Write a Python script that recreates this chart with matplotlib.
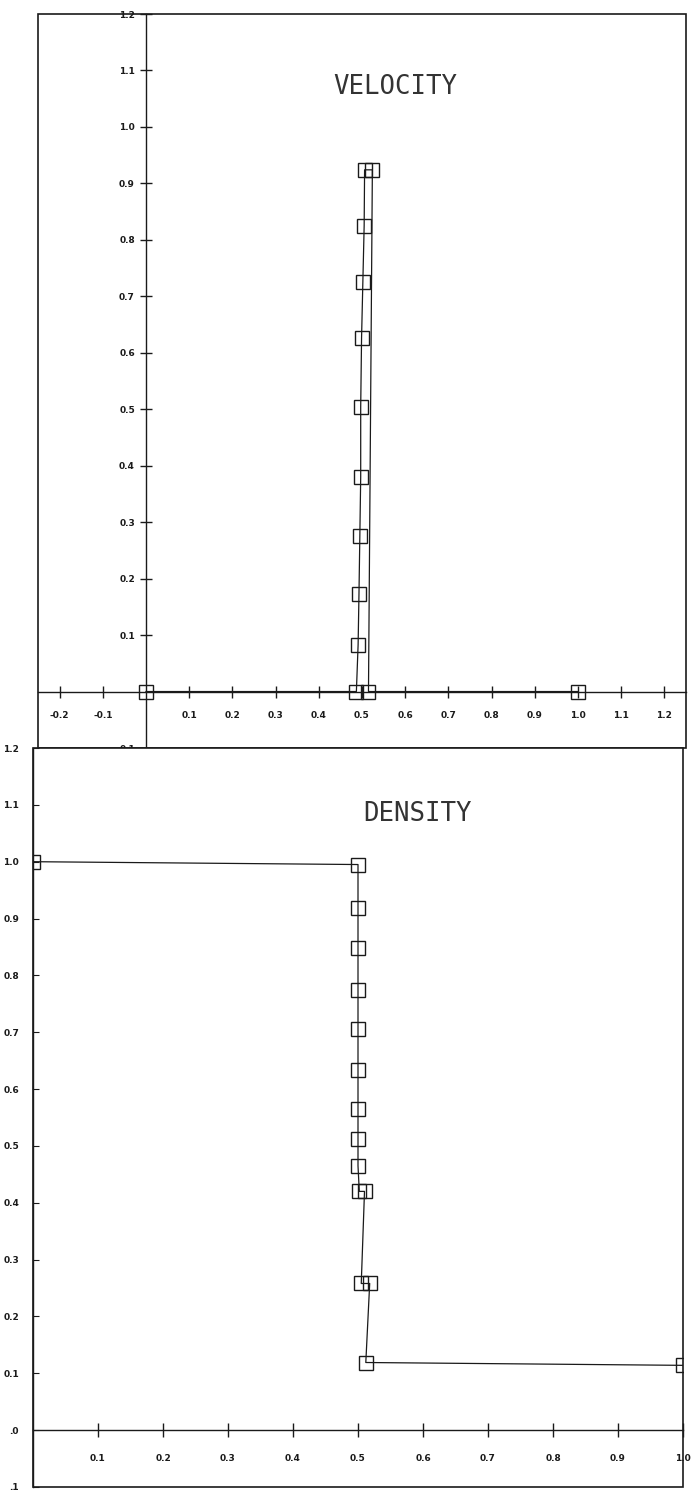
import matplotlib
matplotlib.use("Agg")
import matplotlib.pyplot as plt
from matplotlib.patches import Rectangle

# velocity profile (two nearly vertical branches near x = 0.5)
vel_x = [0.0, 0.487, 0.491, 0.493, 0.495, 0.497, 0.497, 0.499, 0.502, 0.505, 0.506, 0.524, 0.515, 1.0]
vel_y = [0.0, 0.0, 0.083, 0.173, 0.276, 0.38, 0.504, 0.627, 0.726, 0.825, 0.924, 0.924, 0.0, 0.0]

# density profile
den_x = [0.0, 0.5, 0.5, 0.5, 0.5, 0.5, 0.5, 0.5, 0.5, 0.5, 0.502, 0.51, 0.505, 0.518, 0.512, 1.0]
den_y = [1.0, 0.995, 0.918, 0.849, 0.775, 0.705, 0.633, 0.565, 0.512, 0.465, 0.42, 0.42, 0.258, 0.258, 0.119, 0.114]

vel_xticks = [-0.2, -0.1, 0.1, 0.2, 0.3, 0.4, 0.5, 0.6, 0.7, 0.8, 0.9, 1.0, 1.1, 1.2]
vel_yticks = [-0.1, 0.1, 0.2, 0.3, 0.4, 0.5, 0.6, 0.7, 0.8, 0.9, 1.0, 1.1, 1.2]
vel_ylabels = ["0.1", "0.1", "0.2", "0.3", "0.4", "0.5", "0.6", "0.7", "0.8", "0.9", "1.0", "1.1", "1.2"]

den_xticks = [0.1, 0.2, 0.3, 0.4, 0.5, 0.6, 0.7, 0.8, 0.9, 1.0]
den_yticks = [-0.1, 0.0, 0.1, 0.2, 0.3, 0.4, 0.5, 0.6, 0.7, 0.8, 0.9, 1.0, 1.1, 1.2]
den_ylabels = [".1", ".0", "0.1", "0.2", "0.3", "0.4", "0.5", "0.6", "0.7", "0.8", "0.9", "1.0", "1.1", "1.2"]

INK = "#1a1a1a"
W, H = 691, 1494


def frac(left, top, right, bottom):
    return [left / W, 1 - bottom / H, (right - left) / W, (bottom - top) / H]


def style(ax):
    for s in ["top", "right"]:
        ax.spines[s].set_visible(False)
    for s in ["left", "bottom"]:
        ax.spines[s].set_color(INK)
        ax.spines[s].set_linewidth(1.0)
    ax.add_patch(Rectangle((0, 0), 1, 1, transform=ax.transAxes, fill=False,
                           edgecolor=INK, linewidth=1.2, clip_on=False))
    for lab in ax.get_xticklabels() + ax.get_yticklabels():
        lab.set_fontsize(6.5)
        lab.set_fontweight("bold")
        lab.set_color(INK)


fig = plt.figure(figsize=(W / 100, H / 100), dpi=100)

# ---- velocity ----
ax1 = fig.add_axes(frac(38, 14, 686, 748))
ax1.plot(vel_x, vel_y, color=INK, lw=0.9, marker="s", ms=10.5,
         mfc="none", mec=INK, mew=1.0, clip_on=False)
ax1.set_xlim(-0.25, 1.25)
ax1.set_ylim(-0.1, 1.2)
ax1.spines["left"].set_position(("data", 0))
ax1.spines["bottom"].set_position(("data", 0))
ax1.set_xticks(vel_xticks)
ax1.set_xticklabels(["%.1f" % v for v in vel_xticks])
ax1.set_yticks(vel_yticks)
ax1.set_yticklabels(vel_ylabels)
ax1.tick_params(axis="both", direction="inout", length=8, width=1.0, color=INK)
ax1.tick_params(axis="x", pad=10)
ax1.tick_params(axis="y", pad=4)
style(ax1)
ax1.text(0.552, 0.90, "VELOCITY", transform=ax1.transAxes, ha="center", va="center",
         fontsize=18.5, family="DejaVu Sans Mono", color="#333333")

# ---- density ----
ax2 = fig.add_axes(frac(33, 748, 683, 1487))
ax2.plot(den_x, den_y, color=INK, lw=0.9, marker="s", ms=10.5,
         mfc="none", mec=INK, mew=1.0)
ax2.set_xlim(0, 1.0)
ax2.set_ylim(-0.1, 1.2)
ax2.spines["bottom"].set_position(("data", 0))
ax2.set_xticks(den_xticks)
ax2.set_xticklabels(["%.1f" % v for v in den_xticks])
ax2.set_yticks(den_yticks)
ax2.set_yticklabels(den_ylabels)
ax2.tick_params(axis="x", direction="inout", length=10, width=1.0, color=INK, pad=12)
ax2.tick_params(axis="y", direction="in", length=4, width=0.8, color=INK, pad=10)
style(ax2)
ax2.text(0.591, 0.911, "DENSITY", transform=ax2.transAxes, ha="center", va="center",
         fontsize=18.5, family="DejaVu Sans Mono", color="#333333")

fig.savefig("out.png", dpi=100, facecolor="white")
